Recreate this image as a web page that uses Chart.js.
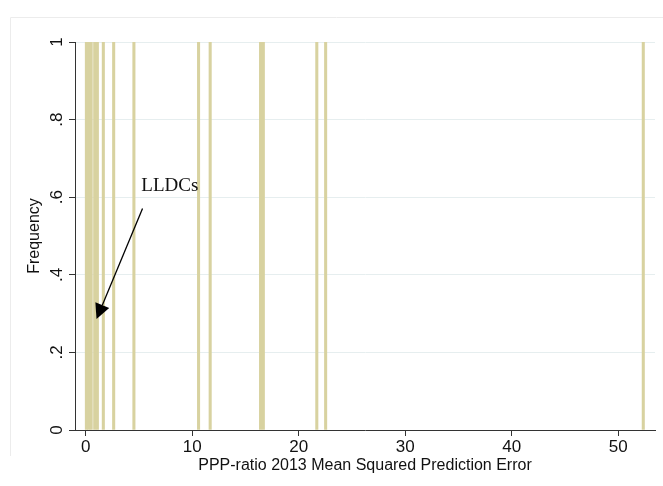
<!DOCTYPE html>
<html>
<head>
<meta charset="utf-8">
<script src="https://cdn.jsdelivr.net/npm/chart.js@4/dist/chart.umd.min.js"></script>
<style>
  html, body { margin: 0; padding: 0; background: #fff; }
  #wrap { width: 663px; height: 486px; }
</style>
</head>
<body>
<div id="wrap"><canvas id="hist" width="663" height="486"></canvas></div>
<script>
// histogram bins (centre of each bin) and their frequencies
var binCenters = [0.07, 0.29, 0.52, 0.85, 1.1, 1.66, 2.63, 4.53, 10.6, 11.69, 16.42, 16.68, 21.7, 22.53, 52.35];
var frequency  = [1, 1, 1, 1, 1, 1, 1, 1, 1, 1, 1, 1, 1, 1, 1];
var xTicks = [0, 10, 20, 30, 40, 50];
var yTicks = [0, 0.2, 0.4, 0.6, 0.8, 1];
var yTickLabels = ["0", ".2", ".4", ".6", ".8", "1"];
var xTitle = "PPP-ratio 2013 Mean Squared Prediction Error";
var yTitle = "Frequency";
var noteText = "LLDCs";

var points = binCenters.map(function (c, i) { return { x: c, y: frequency[i] }; });

// texts, rotated y labels, the arrow note and the faint frame
var stataText = {
  id: "stataText",
  afterDraw: function (chart) {
    var c = chart.ctx, xs = chart.scales.x, ys = chart.scales.y;
    c.save();
    // faint outer frame
    c.strokeStyle = "#ececec";
    c.lineWidth = 1;
    c.beginPath();
    c.moveTo(10.5, 456);
    c.lineTo(10.5, 17.5);
    c.lineTo(663, 17.5);
    c.stroke();

    c.fillStyle = "#111";
    c.textAlign = "center";
    c.textBaseline = "middle";
    c.font = "17px 'Liberation Sans', Arial, sans-serif";
    yTicks.forEach(function (v, i) {
      c.save();
      c.translate(57, ys.getPixelForValue(v));
      c.rotate(-Math.PI / 2);
      c.fillText(yTickLabels[i], 0, 0);
      c.restore();
    });
    c.font = "16px 'Liberation Sans', Arial, sans-serif";
    c.save();
    c.translate(35, (chart.chartArea.top + chart.chartArea.bottom) / 2);
    c.rotate(-Math.PI / 2);
    c.fillText(yTitle, 0, 0);
    c.restore();
    c.fillText(xTitle, (chart.chartArea.left + chart.chartArea.right) / 2, 466);

    // note + arrow
    c.font = "19px 'Liberation Serif', 'Times New Roman', serif";
    c.fillText(noteText, xs.getPixelForValue(7.9), ys.getPixelForValue(0.629));
    var x0 = xs.getPixelForValue(5.34), y0 = ys.getPixelForValue(0.571);
    var x1 = xs.getPixelForValue(1.02), y1 = ys.getPixelForValue(0.286);
    var ang = Math.atan2(y1 - y0, x1 - x0), len = 15, half = 7.5;
    var bx = x1 - len * Math.cos(ang), by = y1 - len * Math.sin(ang);
    c.strokeStyle = "#000";
    c.lineWidth = 1.3;
    c.beginPath();
    c.moveTo(x0, y0);
    c.lineTo(bx, by);
    c.stroke();
    c.fillStyle = "#000";
    c.beginPath();
    c.moveTo(x1, y1);
    c.lineTo(bx + half * Math.sin(ang), by - half * Math.cos(ang));
    c.lineTo(bx - half * Math.sin(ang), by + half * Math.cos(ang));
    c.closePath();
    c.fill();
    c.restore();
  }
};

new Chart(document.getElementById("hist"), {
  type: "bar",
  data: {
    datasets: [{
      label: yTitle,
      data: points,
      backgroundColor: "#d8d2a0",
      borderWidth: 0,
      barThickness: 2.4,
      grouped: false
    }]
  },
  options: {
    responsive: false,
    animation: false,
    layout: { padding: { left: 0, right: 8, top: 42, bottom: 0 } },
    plugins: { legend: { display: false }, tooltip: { enabled: false } },
    scales: {
      x: {
        type: "linear",
        offset: false,
        min: -1,
        max: 53.45,
        afterFit: function (s) { s.height = 56; },
        afterBuildTicks: function (s) { s.ticks = xTicks.map(function (v) { return { value: v }; }); },
        ticks: {
          color: "#111",
          padding: 1,
          maxRotation: 0,
          font: { family: "'Liberation Sans', Arial, sans-serif", size: 17 }
        },
        grid: { offset: false, drawOnChartArea: false, drawTicks: true, tickLength: 6, tickColor: "#333" },
        border: { color: "#333", width: 1 }
      },
      y: {
        min: 0,
        max: 1,
        afterFit: function (s) { s.width = 75; },
        afterBuildTicks: function (s) { s.ticks = yTicks.map(function (v) { return { value: v }; }); },
        ticks: { display: false },
        grid: { color: "#e6eeef", lineWidth: 1, drawTicks: true, tickLength: 6, tickColor: "#333" },
        border: { color: "#333", width: 1 }
      }
    }
  },
  plugins: [stataText]
});
</script>
</body>
</html>
